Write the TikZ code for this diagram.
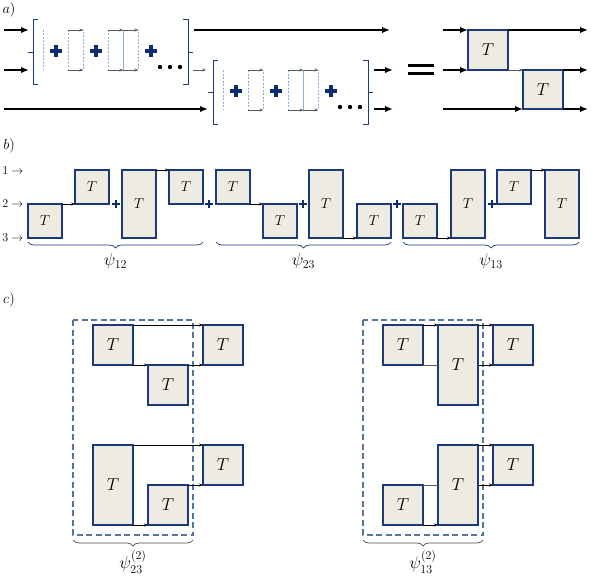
\documentclass[tikz,border=0pt]{standalone}
\usepackage{amsmath}
\usepackage{tikz}
\usetikzlibrary{arrows.meta,calc,decorations.pathreplacing,shadows}
\definecolor{boxfill}{HTML}{EDEBE2}
\definecolor{boxline}{HTML}{1C3A7A}
\definecolor{plusblue}{HTML}{0E2D6E}
\definecolor{dashblue}{HTML}{8DAFE0}
\definecolor{frameblue}{HTML}{55759F}
\definecolor{wiregray}{HTML}{5A5A5A}
\tikzset{
  tbox/.style={draw=boxline, line width=1.5pt, fill=boxfill, anchor=north west,
    inner sep=0pt, outer sep=0pt, minimum width=#1, minimum height=#1, font=\LARGE,
    drop shadow={shadow xshift=1pt, shadow yshift=-1pt, opacity=0.2}},
  wire/.style={line width=1.8pt, -{Latex[length=8pt,width=6.5pt]}},
  garr/.style={wiregray, line width=0.7pt, -{Stealth[length=3.5pt,width=3pt]}},
  tarr/.style={black, line width=0.6pt, -{Stealth[length=4pt,width=3pt]}},
  tline/.style={wiregray, line width=0.6pt},
  brk/.style={boxline, line width=1pt},
  dbox/.style={dashblue, line width=0.5pt, dash pattern=on 2pt off 1.5pt},
  frame/.style={frameblue, line width=1.4pt, dash pattern=on 6pt off 3.5pt},
  under/.style={decorate, decoration={brace, mirror, amplitude=6pt}, line width=0.7pt},
  pics/cross/.style={code={\draw[plusblue, line width=#1] (-6,0)--(6,0) (0,-6)--(0,6);}}
}
\begin{document}
\begin{tikzpicture}[x=1pt, y=-1pt]
  \useasboundingbox (0,0) rectangle (593,578);
  % a)
  \node (la) at (9,10) {\Large $a)$};
  \coordinate (w1) at (4,30);
  \coordinate (w2) at (4,70);
  \coordinate (w3) at (4,109);
  \draw[wire] (w1) -- (29,30);
  \draw[wire] (w2) -- (29,70);
  \draw[wire] (w3) -- (208,109);
  \draw[wire] (194,30) -- (390,30);
  \draw[garr] (193,70) -- (206,70);
  \draw[wire] (374,70) -- (393,70);
  \draw[wire] (374,109) -- (393,109);
  \foreach \dx/\dy in {0/0,180/40}{
    \begin{scope}[shift={(\dx,\dy)}]
      \draw[brk] (38,20) -- (33,20) -- (33,84) -- (38,84) (33,52) -- (28,52);
      \draw[brk] (183,20) -- (188,20) -- (188,84) -- (183,84) (188,52) -- (193,52);
      \draw[dbox] (43,30) -- (43,70);
      \draw[dbox] (68,30) rectangle (83,70);
      \draw[dbox] (108,30) rectangle (123,70) (123,30) rectangle (138,70);
      \foreach \yy in {30,70}{
        \draw[garr] (68,\yy) -- (83,\yy);
        \draw[garr] (108,\yy) -- (123,\yy);
        \draw[garr] (123,\yy) -- (138,\yy);
      }
      \foreach \xx in {56,96,151} \pic at (\xx,51) {cross=3.5pt};
      \foreach \xx in {160,170,180} \fill (\xx,67) circle (2.2pt);
    \end{scope}
  }
  \draw[line width=3.8pt] (408,65.5) -- (434,65.5) (408,73.5) -- (434,73.5);
  \node[tbox=40pt] (ta) at (468,30) {$T$};
  \node[tbox=40pt, minimum height=39pt] (tb) at (523,70) {$T$};
  \coordinate (i1) at (443,30);
  \coordinate (i2) at (443,70);
  \coordinate (i3) at (443,109);
  \coordinate (o1) at (588,30);
  \coordinate (o2) at (588,70);
  \coordinate (o3) at (588,109);
  \draw[wire] (i1) -- (ta.north west);
  \draw[wire] (i2) -- (ta.south west);
  \draw[wire] (i3) -- (tb.south west);
  \draw[wire] (ta.north east) -- (o1);
  \draw[garr] (ta.south east) -- (tb.north west);
  \draw[wire] (tb.north east) -- (o2);
  \draw[wire] (tb.south east) -- (o3);
  % b)
  \node (lb) at (9,146) {\Large $b)$};
  \foreach \n/\yy in {1/171,2/204,3/238} \node[anchor=east, font=\large] (lab\n) at (27,\yy) {$\n\rightarrow$};
  \tikzset{bb/.style={tbox=34pt, font=\Large}, bt/.style={bb, minimum height=68pt}}
  \node[bb] (p1) at (28,204) {$T$};
  \node[bb] (p2) at (75,170) {$T$};
  \node[bt] (p3) at (122,170) {$T$};
  \node[bb] (p4) at (169,170) {$T$};
  \node[bb] (q1) at (216,170) {$T$};
  \node[bb] (q2) at (263,204) {$T$};
  \node[bt] (q3) at (309,170) {$T$};
  \node[bb] (q4) at (357,204) {$T$};
  \node[bb] (s1) at (403,204) {$T$};
  \node[bt] (s2) at (451,170) {$T$};
  \node[bb] (s3) at (497,170) {$T$};
  \node[bt] (s4) at (545,170) {$T$};
  \draw[tarr] (p1.north east) -- (p2.south west);
  \draw[tarr] (p3.north east) -- (p4.north west);
  \draw[tarr] (q1.south east) -- (q2.north west);
  \draw[tarr] (q3.south east) -- (q4.south west);
  \draw[tarr] (s1.south east) -- (s2.south west);
  \draw[tarr] (s3.north east) -- (s4.north west);
  \foreach \xx in {116,209,303,397,492} \pic[scale=0.7] at (\xx,204) {cross=2.6pt};
  \draw[under, boxline] (p1.south west) ++(0,4) -- ($(p4.north east)+(0,72)$) node[midway, below=8pt, font=\LARGE, text=black] (psi12) {$\psi_{12}$};
  \draw[under, boxline] (q1.north west) ++(0,72) -- ($(q4.south east)+(0,4)$) node[midway, below=8pt, font=\LARGE, text=black] (psi23) {$\psi_{23}$};
  \draw[under, boxline] (s1.south west) ++(0,4) -- ($(s4.south east)+(0,4)$) node[midway, below=8pt, font=\LARGE, text=black] (psi13) {$\psi_{13}$};
  % c)
  \node (lc) at (9,300) {\Large $c)$};
  \draw[frame] (73,320) rectangle (193,535);
  \draw[frame] (363,320) rectangle (483,535);
  \node[tbox=40pt] (ca) at (93,325) {$T$};
  \node[tbox=40pt] (cb) at (148,365) {$T$};
  \node[tbox=40pt] (cc) at (203,325) {$T$};
  \node[tbox=40pt, minimum height=80pt] (cd) at (93,445) {$T$};
  \node[tbox=40pt] (ce) at (148,485) {$T$};
  \node[tbox=40pt] (cf) at (203,445) {$T$};
  \draw[tarr] (ca.north east) -- (cc.north west);
  \draw[tarr] (ca.south east) -- (cb.north west);
  \draw[tarr] (cb.north east) -- (cc.south west);
  \draw[tarr] (cd.north east) -- (cf.north west);
  \draw[tarr] (cd.south east) -- (ce.south west);
  \draw[tarr] (ce.north east) -- (cf.south west);
  \node[tbox=40pt] (da) at (383,325) {$T$};
  \node[tbox=40pt, minimum height=80pt] (db) at (438,325) {$T$};
  \node[tbox=40pt] (dc) at (493,325) {$T$};
  \node[tbox=40pt] (dd) at (383,485) {$T$};
  \node[tbox=40pt, minimum height=80pt] (de) at (438,445) {$T$};
  \node[tbox=40pt] (df) at (493,445) {$T$};
  \draw[tarr] (da.north east) -- (db.north west);
  \draw[tline] (da.south east) -- (da.south east -| db.west);
  \draw[tarr] (db.north east) -- (dc.north west);
  \draw[tarr] (dc.south west -| db.east) -- (dc.south west);
  \draw[tline] (dd.north east) -- (dd.north east -| de.west);
  \draw[tarr] (dd.south east) -- (de.south west);
  \draw[tarr] (de.north east) -- (df.north west);
  \draw[tarr] (df.south west -| de.east) -- (df.south west);
  \draw[under, black!70] (73,540) -- (193,540) node[midway, below=7pt, font=\LARGE, text=black] (psi23c) {$\psi^{(2)}_{23}$};
  \draw[under, black!70] (363,540) -- (483,540) node[midway, below=7pt, font=\LARGE, text=black] (psi13c) {$\psi^{(2)}_{13}$};
\end{tikzpicture}
\end{document}
